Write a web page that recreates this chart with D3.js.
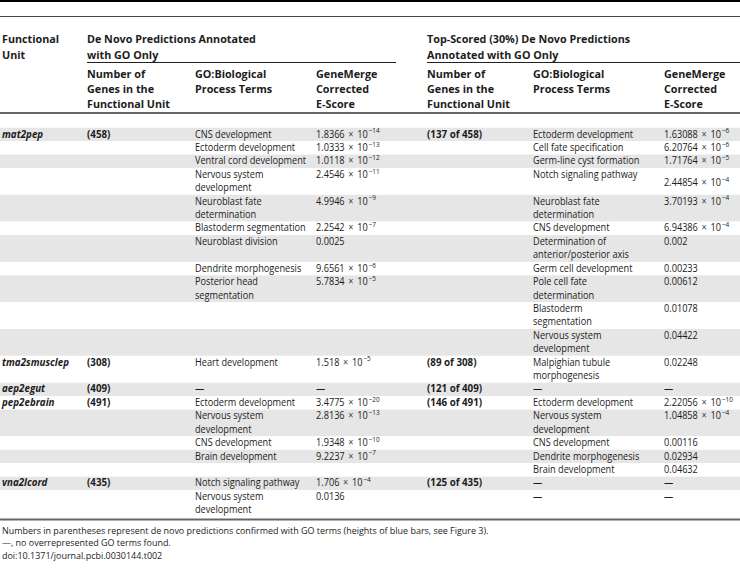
<!DOCTYPE html>
<html><head><meta charset="utf-8">
<script src="https://cdn.jsdelivr.net/npm/d3@7"></script>
<style>body{margin:0;background:#fff}svg{display:block}</style>
</head><body>
<svg id="t" width="740" height="575"></svg>
<script>
// ---------------- data ----------------
const units = ["mat2pep", "tma2smusclep", "aep2egut", "pep2ebrain", "vna2lcord"];
const allCounts = ["(458)", "(308)", "(409)", "(491)", "(435)"];
const topCounts = ["(137 of 458)", "(89 of 308)", "(121 of 409)", "(146 of 491)", "(125 of 435)"];
// which functional unit each table row belongs to
const rowUnit = [0,0,0,0,0,0,0,0,0,0,0, 1, 2, 3,3,3,3,3, 4,4];
const leftTerms = [
  "CNS development", "Ectoderm development", "Ventral cord development", "Nervous system\ndevelopment",
  "Neuroblast fate\ndetermination", "Blastoderm segmentation", "Neuroblast division", "Dendrite morphogenesis",
  "Posterior head\nsegmentation", "", "",
  "Heart development",
  "—",
  "Ectoderm development", "Nervous system\ndevelopment", "CNS development", "Brain development", "",
  "Notch signaling pathway", "Nervous system\ndevelopment"
];
const leftScores = [
  "1.8366e-14", "1.0333e-13", "1.0118e-12", "2.4546e-11", "4.9946e-9", "2.2542e-7", "0.0025", "9.6561e-6",
  "5.7834e-5", "", "",
  "1.518e-5",
  "—",
  "3.4775e-20", "2.8136e-13", "1.9348e-10", "9.2237e-7", "",
  "1.706e-4", "0.0136"
];
const rightTerms = [
  "Ectoderm development", "Cell fate specification", "Germ-line cyst formation", "Notch signaling pathway",
  "Neuroblast fate\ndetermination", "CNS development", "Determination of\nanterior/posterior axis",
  "Germ cell development", "Pole cell fate\ndetermination", "Blastoderm\nsegmentation", "Nervous system\ndevelopment",
  "Malpighian tubule\nmorphogenesis",
  "—",
  "Ectoderm development", "Nervous system\ndevelopment", "CNS development", "Dendrite morphogenesis", "Brain development",
  "—", "—"
];
const rightScores = [
  "1.63088e-6", "6.20764e-6", "1.71764e-5", "2.44854e-4", "3.70193e-4", "6.94386e-4", "0.002", "0.00233",
  "0.00612", "0.01078", "0.04422",
  "0.02248",
  "—",
  "2.22056e-10", "1.04858e-4", "0.00116", "0.02934", "0.04632",
  "—", "—"
];
const headTop = [["Functional", "Unit"], ["De Novo Predictions Annotated", "with GO Only"], ["Top-Scored (30%) De Novo Predictions", "Annotated with GO Only"]];
const headSub = [["Number of", "Genes in the", "Functional Unit"], ["GO:Biological", "Process Terms"], ["GeneMerge", "Corrected", "E-Score"]];
const notes = [
  "Numbers in parentheses represent de novo predictions confirmed with GO terms (heights of blue bars, see Figure 3).",
  "—, no overrepresented GO terms found.",
  "doi:10.1371/journal.pcbi.0030144.t002"
];

// ---------------- layout ----------------
const W = 740;
const FONT = "'Open Sans', 'Noto Sans', sans-serif";
const TXT = "#1c1c1c";
const svg = d3.select("#t").style("font-family", FONT);

// text styles: size, weight, style, horizontal scale
const ST = {
  body:  {size: 10.2, weight: 400, style: "normal", sx: 0.9},
  bbold: {size: 10.2, weight: 700, style: "normal", sx: 0.96},
  unit:  {size: 10.2, weight: 700, style: "italic", sx: 0.96},
  head:  {size: 11.0, weight: 700, style: "normal", sx: 0.98},
  note:  {size: 9.8,  weight: 400, style: "normal", sx: 0.915}
};
const SUP = 7.2;

const cols = ["unit", "count", "term", "score", "count2", "term2", "score2"];
const x = d3.scaleOrdinal().domain(cols).range([2, 87, 195, 316, 427, 533, 664]);

const nLines = s => s ? s.split("\n").length : 1;
const rowLines = leftTerms.map((t, i) => Math.max(nLines(t), nLines(rightTerms[i])));
const starts = d3.cumsum([0].concat(rowLines)); // line index where each row starts
const totalLines = starts[starts.length - 1];
const LH = 13.42, TOP = 127.7;
const y = d3.scaleLinear().domain([0, totalLines]).range([TOP, TOP + totalLines * LH]);

// zebra bands
svg.append("g").selectAll("rect").data(rowLines).join("rect")
  .attr("x", 0).attr("width", W)
  .attr("y", (d, i) => y(starts[i]))
  .attr("height", (d, i) => y(starts[i] + d) - y(starts[i]))
  .attr("fill", (d, i) => i % 2 === 0 ? "#e6e6e6" : "#fff");

// rules
const rule = (x1, x2, yy, w, c) => svg.append("line").attr("x1", x1).attr("x2", x2)
  .attr("y1", yy).attr("y2", yy).attr("stroke", c).attr("stroke-width", w);
rule(0, W, 1, 2, "#000");
rule(0, W, 16.5, 1, "#444");
rule(x("count"), 396, 62.5, 1, "#222");
rule(x("count2"), W, 62.5, 1, "#222");
rule(0, W, 113, 2, "#666");
rule(0, W, y(totalLines) + 2.5, 2, "#666");

// text helper: positioned via transform so the glyphs can be narrowed
function txt(xx, yy, st) {
  return svg.append("text")
    .attr("transform", `translate(${xx},${yy}) scale(${st.sx},1)`)
    .attr("fill", TXT)
    .style("font-size", st.size + "px").style("font-weight", st.weight).style("font-style", st.style);
}
function multiline(lines, xx, y0, pitch, st) {
  const t = txt(xx, y0, st);
  lines.forEach((l, k) => t.append("tspan").attr("x", 0).attr("y", k * pitch).text(l));
  return t;
}
multiline(headTop[0], x("unit"), 43, 15.8, ST.head);
multiline(headTop[1], x("count"), 43, 15.8, ST.head);
multiline(headTop[2], x("count2"), 43, 15.8, ST.head);
[["count", "term", "score"], ["count2", "term2", "score2"]].forEach(set => {
  set.forEach((c, k) => multiline(headSub[k], x(c), 77.5, 15.2, ST.head));
});

// body
function scoreText(s, xx, yy) {
  const t = txt(xx, yy, ST.body);
  if (s.includes("e")) {
    const [m, e] = s.split("e");
    t.append("tspan").text(m + " ");
    t.append("tspan").attr("dx", 1.5).attr("fill", "#444").text("\u00d7");
    t.append("tspan").attr("dx", 1.5).text(" 10");
    t.append("tspan").attr("dy", -4.2).attr("dx", 0.8).style("font-size", SUP + "px").text(e.replace("-", "\u2212"));
  } else t.text(s);
}
const base = 9.8;
rowLines.forEach((n, i) => {
  const y0 = y(starts[i]) + base;
  if (i === 0 || rowUnit[i] !== rowUnit[i - 1]) {
    const u = rowUnit[i];
    txt(x("unit"), y0, ST.unit).text(units[u]);
    txt(x("count"), y0, ST.bbold).text(allCounts[u]);
    txt(x("count2"), y0, ST.bbold).text(topCounts[u]);
  }
  if (leftTerms[i]) multiline(leftTerms[i].split("\n"), x("term"), y0, LH, ST.body);
  if (rightTerms[i]) multiline(rightTerms[i].split("\n"), x("term2"), y0, LH, ST.body);
  if (leftScores[i]) scoreText(leftScores[i], x("score"), y0);
  if (rightScores[i]) {
    // a score whose term fits on one line, in a two-line row, sits lower in the cell
    const shift = (n > 1 && nLines(rightTerms[i]) === 1 && rightTerms[i] !== "—") ? 8 : 0;
    scoreText(rightScores[i], x("score2"), y0 + shift);
  }
});

// notes
notes.forEach((n, k) => txt(2, 534 + k * 12.3, ST.note).text(n));
</script>
</body></html>
